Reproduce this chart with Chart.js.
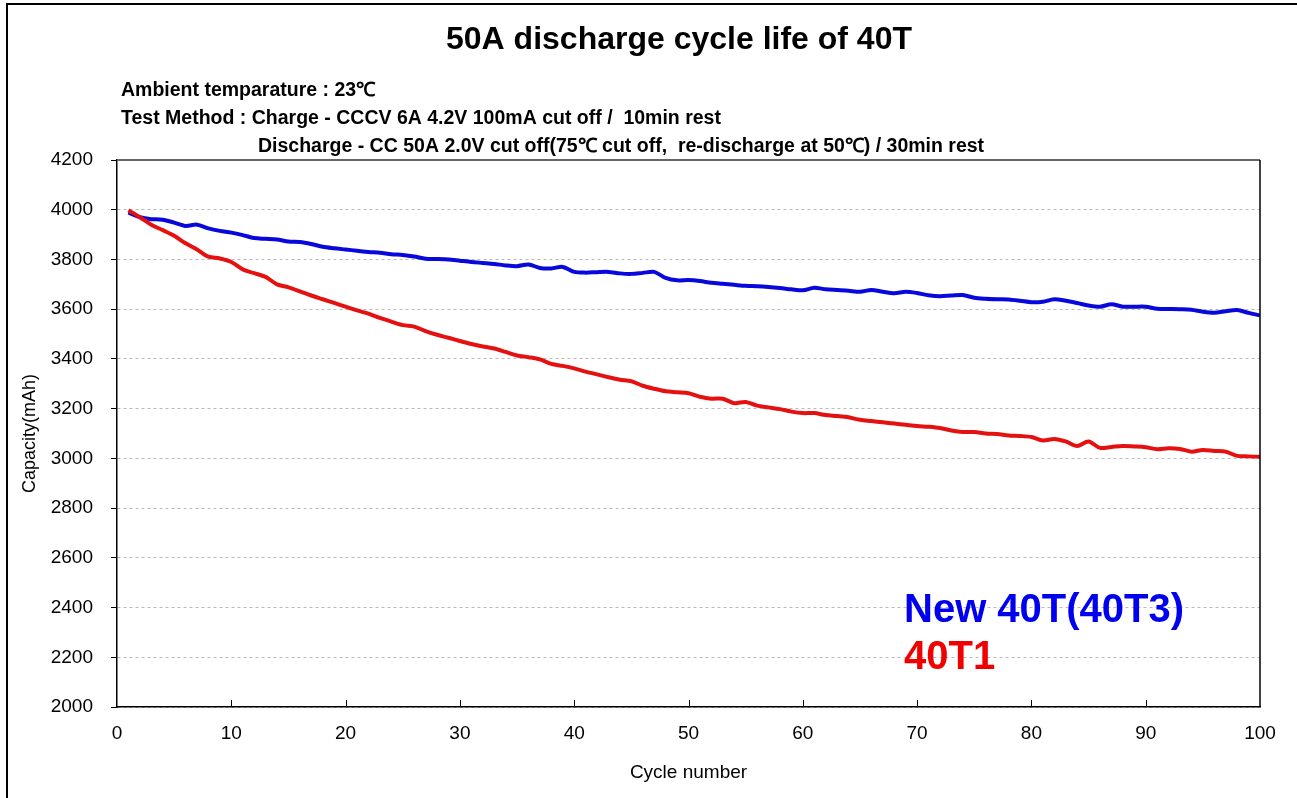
<!DOCTYPE html>
<html>
<head>
<meta charset="utf-8">
<script src="https://cdn.jsdelivr.net/npm/chart.js@4.4.1/dist/chart.umd.min.js"></script>
<style>
  body { margin: 0; background: #fff; }
  canvas { display: block; }
</style>
</head>
<body>
<canvas id="cycleChart" width="1297" height="798"></canvas>
<script>
// cycle numbers 1..100
var cycles = [];
for (var c = 1; c <= 100; c++) cycles.push(c);

// New 40T (40T3), capacity in mAh
var new40T = [
    3988, 3970, 3962, 3960, 3948, 3935, 3940, 3925, 3915, 3908,
    3898, 3886, 3883, 3880, 3872, 3870, 3862, 3851, 3845, 3840,
    3835, 3830, 3827, 3821, 3818, 3812, 3803, 3802, 3800, 3795,
    3790, 3786, 3782, 3776, 3773, 3780, 3766, 3764, 3770, 3750,
    3747, 3749, 3750, 3744, 3742, 3746, 3750, 3726, 3716, 3717,
    3713, 3706, 3702, 3698, 3694, 3692, 3689, 3685, 3680, 3676,
    3686, 3680, 3677, 3674, 3670, 3677, 3670, 3664, 3670, 3665,
    3656, 3652, 3655, 3657, 3646, 3642, 3640, 3639, 3634, 3628,
    3630, 3640, 3634, 3625, 3615, 3610, 3620, 3610, 3610, 3610,
    3602, 3601, 3600, 3598, 3590, 3586, 3592, 3597, 3585, 3575
];

// 40T1, capacity in mAh
var old40T1 = [
    3998, 3970, 3940, 3918, 3895, 3865, 3840, 3811, 3804, 3790,
    3760, 3745, 3730, 3700, 3688, 3672, 3655, 3640, 3625, 3610,
    3595, 3582, 3565, 3550, 3536, 3530, 3512, 3497, 3485, 3472,
    3460, 3450, 3442, 3428, 3414, 3407, 3398, 3380, 3372, 3362,
    3349, 3338, 3326, 3316, 3310, 3292, 3280, 3270, 3266, 3262,
    3248, 3240, 3240, 3222, 3227, 3212, 3205, 3198, 3188, 3182,
    3182, 3174, 3170, 3165, 3155, 3150, 3145, 3140, 3135, 3130,
    3127, 3122, 3112, 3106, 3106, 3100, 3098, 3092, 3090, 3086,
    3072, 3078, 3068, 3050, 3068, 3042, 3046, 3050, 3048, 3045,
    3037, 3041, 3038, 3027, 3034, 3030, 3027, 3010, 3008, 3006
];

var chartTitle = "50A discharge cycle life of 40T";
var notes = [
    "Ambient temparature : 23\u2103",
    "Test Method : Charge - CCCV 6A 4.2V 100mA cut off /  10min rest",
    "Discharge - CC 50A 2.0V cut off(75\u2103 cut off,  re-discharge at 50\u2103) / 30min rest"
];
var seriesNames = ["New 40T(40T3)", "40T1"];

var FONT = '"Liberation Sans", Arial, sans-serif';

function points(ys) {
    var out = [];
    for (var i = 0; i < ys.length; i++) out.push({x: cycles[i], y: ys[i]});
    return out;
}

var decor = {
    id: 'decor',
    beforeDraw: function (chart) {
        var ctx = chart.ctx;
        ctx.save();
        ctx.fillStyle = '#fff';
        ctx.fillRect(0, 0, chart.width, chart.height);
        ctx.strokeStyle = '#000';
        ctx.lineWidth = 2;
        ctx.beginPath();
        ctx.moveTo(7, chart.height);
        ctx.lineTo(7, 4);
        ctx.lineTo(chart.width, 4);
        ctx.stroke();
        ctx.restore();
    },
    afterDraw: function (chart) {
        var ctx = chart.ctx;
        var a = chart.chartArea;
        var xs = chart.scales.x;
        ctx.save();
        // top frame line
        ctx.strokeStyle = '#666';
        ctx.lineWidth = 2;
        ctx.beginPath();
        ctx.moveTo(a.left, a.top);
        ctx.lineTo(a.right, a.top);
        ctx.stroke();
        // right frame line
        ctx.strokeStyle = '#000';
        ctx.lineWidth = 1.5;
        ctx.beginPath();
        ctx.moveTo(a.right, a.top);
        ctx.lineTo(a.right, a.bottom);
        ctx.stroke();
        // inward x ticks
        ctx.lineWidth = 1;
        for (var v = 10; v < 100; v += 10) {
            var px = Math.round(xs.getPixelForValue(v)) + 0.5;
            ctx.beginPath();
            ctx.moveTo(px, a.bottom);
            ctx.lineTo(px, a.bottom - 7);
            ctx.stroke();
        }
        // title
        ctx.fillStyle = '#000';
        ctx.textAlign = 'center';
        ctx.textBaseline = 'alphabetic';
        ctx.font = 'bold 32px ' + FONT;
        ctx.fillText(chartTitle, 679, 49);
        // notes
        ctx.textAlign = 'left';
        ctx.font = 'bold 19.5px ' + FONT;
        ctx.fillText(notes[0], 121, 96);
        ctx.fillText(notes[1], 121, 124);
        ctx.fillText(notes[2], 258, 152);
        // series labels
        ctx.font = 'bold 40px ' + FONT;
        ctx.fillStyle = '#0000ee';
        ctx.fillText(seriesNames[0], 904, 622);
        ctx.fillStyle = '#f00000';
        ctx.fillText(seriesNames[1], 904, 669);
        ctx.restore();
    }
};

var chart = new Chart(document.getElementById('cycleChart'), {
    type: 'line',
    data: {
        datasets: [{
            label: seriesNames[1],
            data: points(old40T1),
            borderColor: '#e51010',
            borderWidth: 4,
            pointRadius: 0,
            tension: 0.3,
            fill: false
        }, {
            label: seriesNames[0],
            data: points(new40T),
            borderColor: '#0808dc',
            borderWidth: 4,
            pointRadius: 0,
            tension: 0.3,
            fill: false
        }]
    },
    plugins: [decor],
    options: {
        responsive: false,
        animation: false,
        events: [],
        layout: { padding: { top: 160, right: 37, left: 0, bottom: 0 } },
        plugins: {
            legend: { display: false },
            title: { display: false },
            tooltip: { enabled: false }
        },
        scales: {
            x: {
                type: 'linear',
                min: 0,
                max: 100,
                afterFit: function (s) { s.height = 91; },
                ticks: {
                    stepSize: 10,
                    color: '#000',
                    padding: 7,
                    maxRotation: 0,
                    font: { family: FONT, size: 19 }
                },
                grid: { display: false },
                border: { display: true, color: '#000', width: 1.5 },
                title: {
                    display: true,
                    text: 'Cycle number',
                    color: '#000',
                    padding: { top: 0, bottom: 14 },
                    font: { family: FONT, size: 19 }
                }
            },
            y: {
                min: 2000,
                max: 4200,
                afterFit: function (s) { s.width = 117; },
                ticks: {
                    stepSize: 200,
                    color: '#000',
                    padding: 18,
                    callback: function (v) { return String(v); },
                    font: { family: FONT, size: 19 }
                },
                grid: {
                    color: '#bbb',
                    lineWidth: 1,
                    tickColor: '#000',
                    tickLength: 6
                },
                border: { display: true, color: '#000', width: 1.5, dash: [3, 3] },
                title: {
                    display: true,
                    text: 'Capacity(mAh)',
                    color: '#000',
                    padding: { top: 19, bottom: 0 },
                    font: { family: FONT, size: 18 }
                }
            }
        }
    }
});
</script>
</body>
</html>
